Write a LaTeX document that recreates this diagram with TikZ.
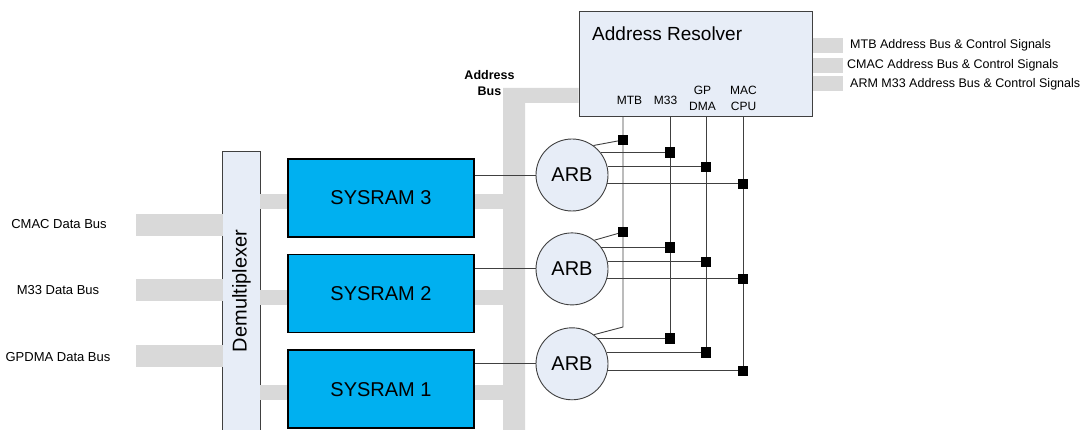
\documentclass[tikz,border=0pt]{standalone}
\usepackage{fontspec}
\setmainfont{Liberation Sans}
\usetikzlibrary{positioning}
\definecolor{busgray}{HTML}{D9D9D9}
\definecolor{paleblue}{HTML}{E7EDF7}
\definecolor{ramblue}{HTML}{00B0F0}
\definecolor{wiregray}{HTML}{404040}
\tikzset{
  bus/.style={draw=busgray, line width=15pt},
  inbus/.style={draw=busgray, line width=22pt},
  wire/.style={draw=wiregray, line width=0.9pt},
  ram/.style={draw=black, line width=1.6pt, fill=ramblue, minimum width=186pt, minimum height=78pt, font=\fontsize{20}{24}\selectfont},
  arb/.style={circle, draw=wiregray, line width=0.9pt, fill=paleblue, minimum size=72pt, inner sep=0pt, font=\fontsize{20}{24}\selectfont},
  junc/.style={fill=black, minimum size=10.5pt, inner sep=0pt},
  port/.style={font=\fontsize{12}{16}\selectfont, align=center, inner sep=0pt},
  datalabel/.style={font=\fontsize{13}{15}\selectfont},
  ctrllabel/.style={font=\fontsize{12.5}{15}\selectfont, anchor=west, inner sep=0pt}
}

\begin{document}
\begin{tikzpicture}[x=1pt,y=-1pt]
  \useasboundingbox (0,0) rectangle (1089,430);
  % address resolver and its ports
  \node[draw=wiregray, line width=1pt, fill=paleblue, minimum width=233pt, minimum height=105pt, inner sep=0pt] (resolver) at (695.5,64.5) {};
  \node[anchor=base west, inner sep=0pt, font=\fontsize{19}{22}\selectfont] (title) at (592,41) {Address Resolver};
  \node[port] (mtbl) at (629.5,100) {MTB};
  \node[port] (m33l) at (665.5,100) {M33};
  \node[port] (gpl) at (702.5,98) {GP\\DMA};
  \node[port] (macl) at (743.5,98) {MAC\\CPU};
  \coordinate (mtb) at (623,117);
  \coordinate (m33) at (670,117);
  \coordinate (gp) at (706,117);
  \coordinate (mac) at (743,117);
  % address and control signals
  \node[ctrllabel] (mtbsig) at (850,45.5) {MTB Address Bus \& Control Signals};
  \node[ctrllabel] (cmacsig) at (847,65.5) {CMAC Address Bus \& Control Signals};
  \node[ctrllabel] (armsig) at (850,84) {ARM M33 Address Bus \& Control Signals};
  \draw[bus] (resolver.east |- mtbsig) -- +(30,0);
  \draw[bus] (resolver.east |- cmacsig) -- +(30,0);
  \draw[bus] (resolver.east |- armsig) -- +(30,0);
  % address bus
  \coordinate (abus) at (503,88);
  \fill[busgray] (resolver.west |- abus) -- (abus) -- (503,430) -- (525,430) -- (525,103) -- (resolver.west |- 0,103) -- cycle;
  \node[font=\bfseries\fontsize{12.5}{16}\selectfont, align=center, inner sep=0pt] (abuslabel) at (489.5,83) {Address\\Bus};
  % demultiplexer
  \node[fill=paleblue, minimum width=37pt, minimum height=278pt, inner sep=0pt, font=\fontsize{20}{24}\selectfont] (demux) at (241.5,291) {\rotatebox{90}{Demultiplexer}};
  \draw[wire] (demux.south west) -- (demux.north west) -- (demux.north east) -- (demux.south east);
  % data buses
  \node[datalabel] (cmacbus) at (59,224) {CMAC Data Bus};
  \node[datalabel] (m33bus) at (58,290) {M33 Data Bus};
  \node[datalabel] (gpdmabus) at (58,357) {GPDMA Data Bus};
  \draw[inbus] (demux.west |- 0,225) -- +(-87,0);
  \draw[inbus] (demux.west |- 0,290) -- +(-87,0);
  \draw[inbus] (demux.west |- 0,356) -- +(-87,0);
  % memories
  \node[ram] (sysram3) at (381,198) {SYSRAM 3};
  \node[ram] (sysram2) [below=16pt of sysram3] {SYSRAM 2};
  \node[ram] (sysram1) [below=16pt of sysram2] {SYSRAM 1};
  \foreach \s in {1,2,3} {
    \draw[bus] ([yshift=-3.5pt]sysram\s.west) -- ([yshift=-3.5pt]demux.east |- sysram\s.west);
    \draw[bus] ([yshift=-3.5pt]sysram\s.east) -- ([yshift=-3.5pt]abus |- sysram\s.east);
  }
  % arbiters
  \node[arb] (arb3) at (572,175) {ARB};
  \node[arb] (arb2) [below=21pt of arb3] {ARB};
  \node[arb] (arb1) [below=22pt of arb2] {ARB};
  \draw[wire] (arb3.west) -- (arb3.west -| sysram3.east);
  \draw[wire] (arb2.west) -- (arb2.west -| sysram2.east);
  \draw[wire] (arb1.west) -- (arb1.west -| sysram1.east);
  % MTB line
  \coordinate (mtbj3) at (623,140);
  \coordinate (mtbj2) at (623,232);
  \coordinate (mtbend) at (623,327);
  \draw[wire] (mtb) -- (mtbend) -- (arb1.53);
  \draw[wire] (arb3.54) -- (mtbj3);
  \draw[wire] (arb2.52) -- (mtbj2);
  % M33, GP DMA and MAC CPU lines
  \foreach \a/\p/\q/\r in {3/38/13/-14, 2/36/11/-16, 1/44/18/-11} {
    \coordinate (m33j\a) at (m33 |- arb\a.\p);
    \coordinate (gpj\a) at (gp |- arb\a.\q);
    \coordinate (macj\a) at (mac |- arb\a.\r);
    \draw[wire] (arb\a.\p) -- (m33j\a);
    \draw[wire] (arb\a.\q) -- (gpj\a);
    \draw[wire] (arb\a.\r) -- (macj\a);
  }
  \draw[wire] (m33) -- (m33j1);
  \draw[wire] (gp) -- (gpj1);
  \draw[wire] (mac) -- (macj1);
  % junction squares
  \node[junc] (mtbsq3) at (mtbj3) {};
  \node[junc] (mtbsq2) at (mtbj2) {};
  \foreach \a in {1,2,3} {
    \node[junc] (m33sq\a) at (m33j\a) {};
    \node[junc] (gpsq\a) at (gpj\a) {};
    \node[junc] (macsq\a) at (macj\a) {};
  }
\end{tikzpicture}
\end{document}
